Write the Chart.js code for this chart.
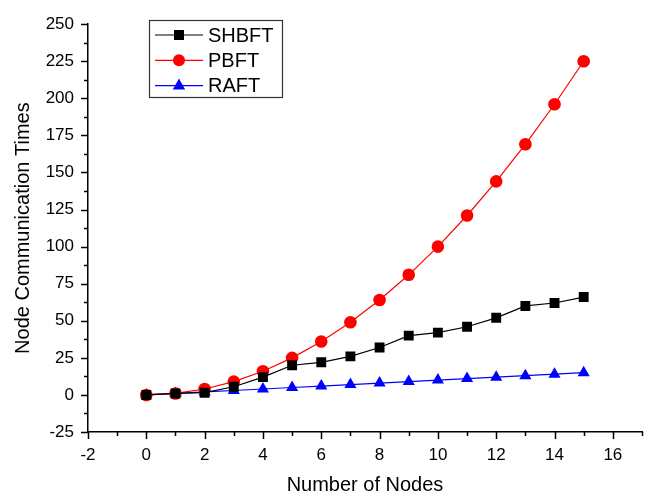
<!DOCTYPE html>
<html>
<head>
<meta charset="utf-8">
<script src="https://cdn.jsdelivr.net/npm/chart.js@4.4.1/dist/chart.umd.min.js"></script>
<style>
html,body{margin:0;padding:0;background:#fff;}
#wrap{width:649px;height:495px;}
</style>
</head>
<body>
<div id="wrap"><canvas id="c" width="649" height="495"></canvas></div>
<script>
const nodes = [0,1,2,3,4,5,6,7,8,9,10,11,12,13,14,15];
const shbft = [0,1,1.5,5.5,12,20,22,26,32,40,42,46,52,60,62,66];
const pbft  = [0,1,4,9,16,25,36,49,64,81,100,121,144,169,196,225];
const raft  = [0,1,2,3,4,5,6,7,8,9,10,11,12,13,14,15];
const seriesNames = ['SHBFT','PBFT','RAFT'];
const xTickLabels = [-2,0,2,4,6,8,10,12,14,16];
const yTickLabels = [-25,0,25,50,75,100,125,150,175,200,225,250];

const FONT = "'Liberation Sans', Arial, sans-serif";
const toXY = arr => nodes.map((n,i)=>({x:n,y:arr[i]}));

const ticksPlugin = {
  id:'originTicks',
  afterDraw(chart){
    const {ctx, scales:{x,y}, chartArea:a} = chart;
    ctx.save();
    ctx.strokeStyle='#000'; ctx.lineWidth=1.5;
    ctx.beginPath();
    for (let v=x.min; v<=x.max; v+=1){
      const px = Math.round(x.getPixelForValue(v))+0.5;
      const len = xTickLabels.includes(v) ? 7 : 4;
      ctx.moveTo(px, a.bottom); ctx.lineTo(px, a.bottom+len);
    }
    for (let v=y.min; v<=y.max; v+=12.5){
      const py = Math.round(y.getPixelForValue(v))+0.5;
      const len = yTickLabels.includes(v) ? 7 : 4;
      ctx.moveTo(a.left, py); ctx.lineTo(a.left-len, py);
    }
    ctx.stroke();
    ctx.restore();
  }
};

function drawMarker(ctx, style, cx, cy, color){
  ctx.fillStyle=color;
  ctx.beginPath();
  if(style==='rect'){ ctx.rect(cx-5,cy-5,10,10); }
  else if(style==='circle'){ ctx.arc(cx,cy,6,0,Math.PI*2); }
  else { ctx.moveTo(cx,cy-7); ctx.lineTo(cx+6.2,cy+4); ctx.lineTo(cx-6.2,cy+4); ctx.closePath(); }
  ctx.fill();
}

const legendPlugin = {
  id:'boxLegend',
  afterDraw(chart){
    const ctx = chart.ctx;
    const L=149.5, T=20.5, W=133, H=77;
    ctx.save();
    ctx.fillStyle='#fff'; ctx.fillRect(L,T,W,H);
    ctx.strokeStyle='#333'; ctx.lineWidth=1.2; ctx.strokeRect(L,T,W,H);
    ctx.font = "20px "+FONT; ctx.textBaseline='middle'; ctx.textAlign='left';
    chart.data.datasets.forEach((ds,i)=>{
      const cy = 35 + i*25.3;
      ctx.strokeStyle=ds.borderColor; ctx.lineWidth=1.2;
      ctx.beginPath(); ctx.moveTo(155,cy); ctx.lineTo(203,cy); ctx.stroke();
      drawMarker(ctx, ds.pointStyle, 179, cy, ds.pointBackgroundColor);
      ctx.fillStyle='#000';
      ctx.fillText(ds.label, 208, cy+1);
    });
    ctx.restore();
  }
};

new Chart(document.getElementById('c'), {
  type:'line',
  data:{
    datasets:[
      {label:seriesNames[0], data:toXY(shbft), borderColor:'#000000', backgroundColor:'#000000', pointBackgroundColor:'#000000', pointBorderColor:'#000000', pointStyle:'rect', pointRadius:7, borderWidth:1.2, pointBorderWidth:0},
      {label:seriesNames[1], data:toXY(pbft), borderColor:'#ff0000', backgroundColor:'#ff0000', pointBackgroundColor:'#ff0000', pointBorderColor:'#ff0000', pointStyle:'circle', pointRadius:6.3, borderWidth:1.2, pointBorderWidth:0},
      {label:seriesNames[2], data:toXY(raft), borderColor:'#0000ff', backgroundColor:'#0000ff', pointBackgroundColor:'#0000ff', pointBorderColor:'#0000ff', pointStyle:'triangle', pointRadius:7, borderWidth:1.2, pointBorderWidth:0}
    ]
  },
  options:{
    responsive:false, animation:false, devicePixelRatio:1,
    layout:{padding:{top:19, right:6, left:0, bottom:0}},
    plugins:{legend:{display:false}, tooltip:{enabled:false}},
    elements:{line:{tension:0}},
    scales:{
      x:{type:'linear', min:-2, max:17,
        afterBuildTicks:s=>{ s.ticks = xTickLabels.map(v=>({value:v})); },
        ticks:{font:{family:FONT,size:17}, color:'#000', padding:13, maxRotation:0, autoSkip:false},
        grid:{display:false, drawTicks:false},
        border:{display:true, color:'#000', width:1.5},
        title:{display:true, text:'Number of Nodes', color:'#000', font:{family:FONT,size:20,lineHeight:1}, padding:{top:0,bottom:0}},
        afterFit:s=>{ s.height = 63; }
      },
      y:{type:'linear', min:-25, max:250,
        afterBuildTicks:s=>{ s.ticks = yTickLabels.map(v=>({value:v})); },
        ticks:{font:{family:FONT,size:17}, color:'#000', padding:14, autoSkip:false},
        grid:{display:false, drawTicks:false},
        border:{display:true, color:'#000', width:1.5},
        title:{display:true, text:'Node Communication Times', color:'#000', font:{family:FONT,size:20,lineHeight:1}, padding:{top:13,bottom:0}},
        afterFit:s=>{ s.width = 88; }
      }
    }
  },
  plugins:[ticksPlugin, legendPlugin]
});
</script>
</body>
</html>
